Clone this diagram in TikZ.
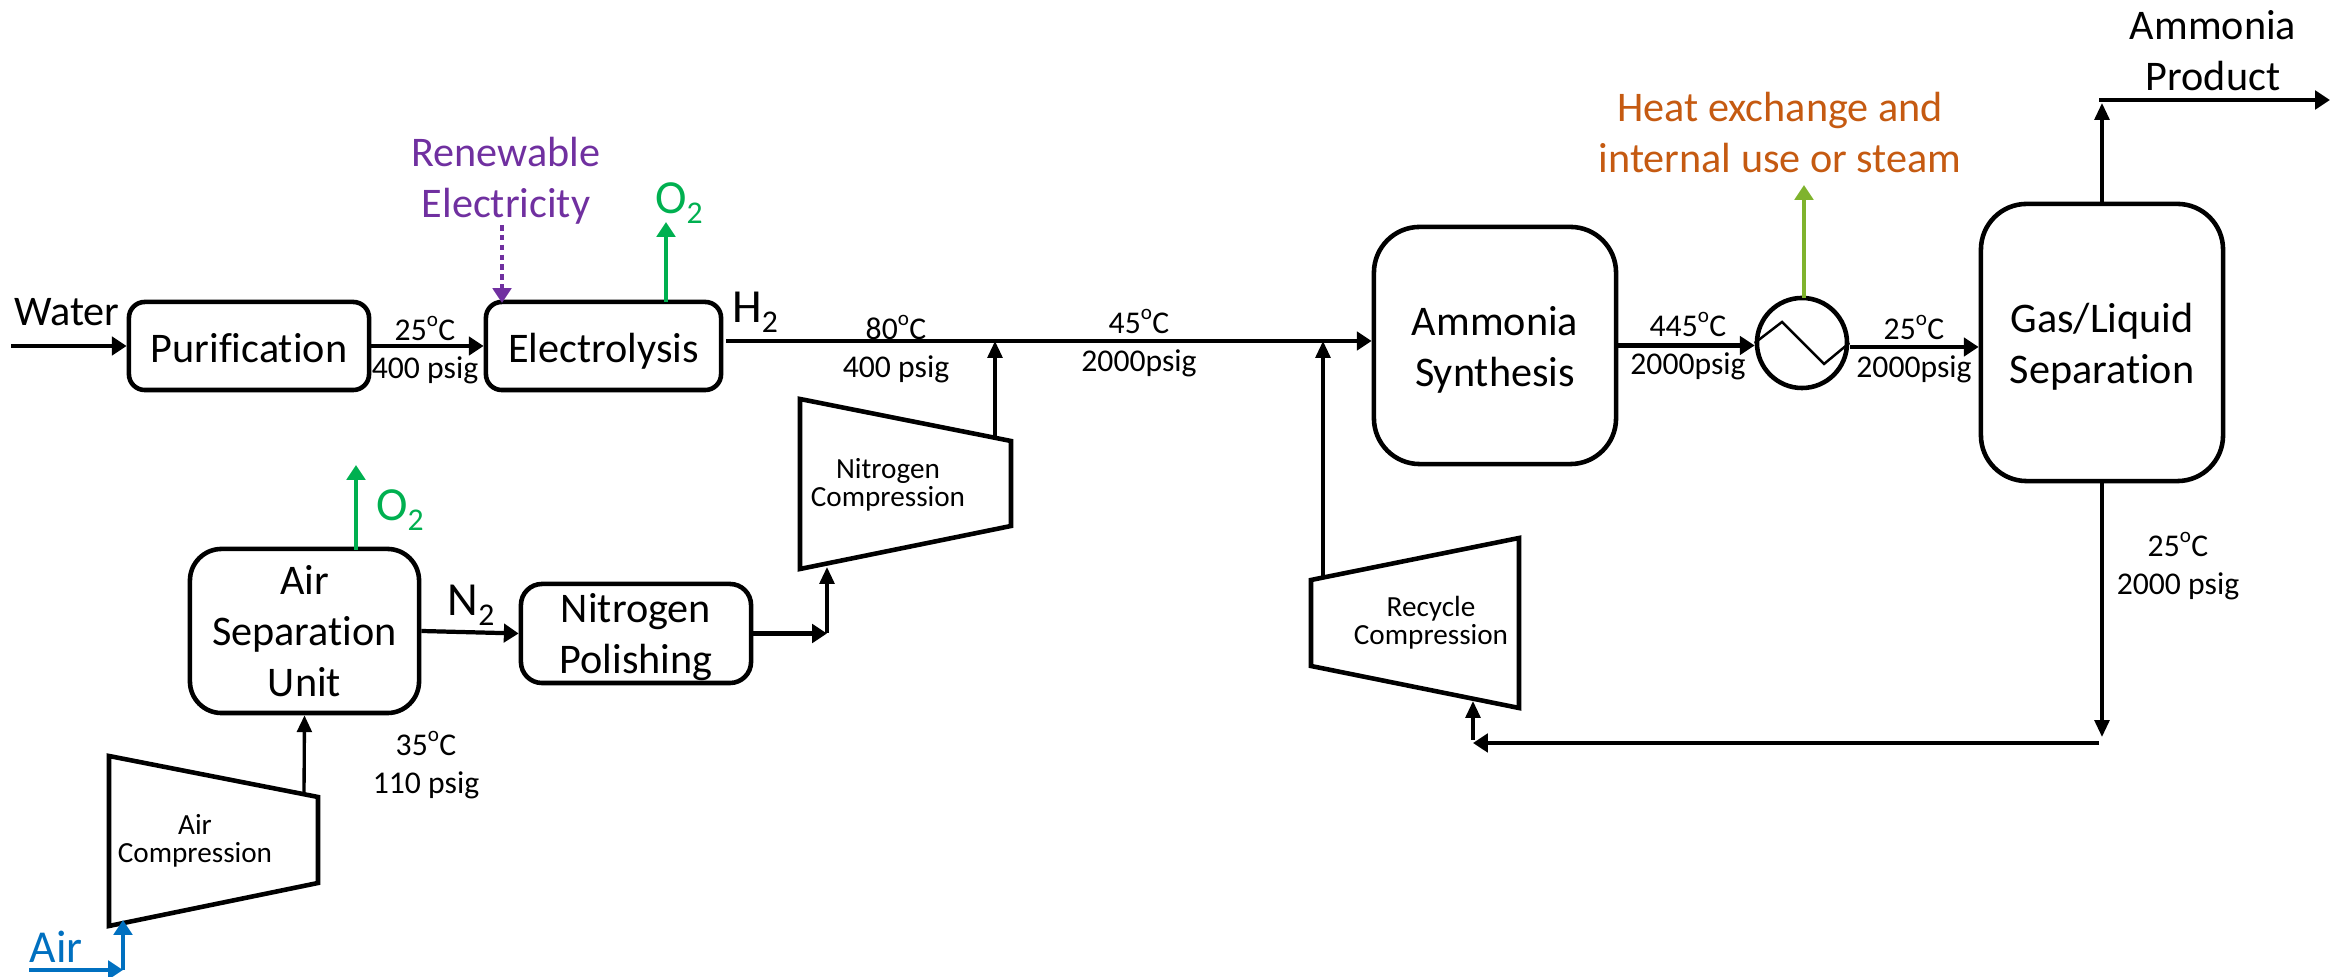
\documentclass[tikz,border=0pt]{standalone}
\usepackage{fontspec}
\setmainfont[Ligatures=NoCommon]{Carlito}
\usetikzlibrary{arrows.meta}
\definecolor{renewpurple}{HTML}{7030A0}
\definecolor{oxygreen}{HTML}{00B050}
\definecolor{airblue}{HTML}{0070C0}
\definecolor{heatorange}{HTML}{C55A11}
\definecolor{heatgreen}{HTML}{7FB32D}
\newcommand{\degc}{\textsuperscript{o}\kern-.04em C}
\newcommand{\subtwo}{\raisebox{-.45ex}{\fontsize{9}{9}\selectfont 2}}
\tikzset{
  procbox/.style={draw, line width=1.3pt, align=center, inner sep=0pt, font=\fontsize{12}{14.5}\selectfont},
  comptrap/.style={draw, line width=1.3pt, line join=miter},
  bigtxt/.style={align=center, inner sep=0pt, font=\fontsize{12}{14.5}\selectfont},
  gastxt/.style={align=center, inner sep=0pt, font=\fontsize{13.5}{14.5}\selectfont},
  condtxt/.style={align=center, inner sep=0pt, font=\fontsize{9}{10.8}\selectfont},
  comptxt/.style={align=center, inner sep=0pt, font=\fontsize{8.3}{8}\selectfont},
  thinflow/.style={line width=.95pt, -{Triangle[length=4.8pt, width=4.2pt]}},
  flow/.style={line width=1.2pt, -{Triangle[length=4.2pt, width=5.2pt]}}
}
\begin{document}
\begin{tikzpicture}[x=0.01cm, y=-0.01cm]
  \useasboundingbox (0, 0) rectangle (2344, 977);

  \node[procbox, rounded corners=4.5pt, minimum width=2.4cm, minimum height=.88cm, text height=9.5pt, text depth=0pt] (purif) at (249, 346) {Purification};
  \node[procbox, rounded corners=4.5pt, minimum width=2.35cm, minimum height=.88cm, text height=9.5pt, text depth=0pt] (electro) at (603.5, 346) {Electrolysis};
  \node[procbox, rounded corners=9pt, minimum width=2.29cm, minimum height=1.64cm] (asu) at (304.5, 631) {Air\\Separation\\Unit};
  \node[procbox, rounded corners=6pt, minimum width=2.3cm, minimum height=.99cm] (polish) at (636, 633.5) {\rule{0pt}{10.5pt}Nitrogen\\Polishing};
  \node[procbox, rounded corners=13pt, minimum width=2.42cm, minimum height=2.37cm] (synth) at (1495, 345.5) {\rule{0pt}{10.5pt}Ammonia\\Synthesis};
  \node[procbox, rounded corners=13pt, minimum width=2.42cm, minimum height=2.77cm] (sep) at (2102, 342.5) {\rule{0pt}{11pt}Gas/Liquid\\Separation};
  \node[draw, circle, line width=1.3pt, minimum size=.9cm, inner sep=0pt] (hx) at (1802, 343) {};
  \draw[line width=.7pt] (hx.west) -- (1782, 322) -- (1824, 364) -- (hx.east);

  \draw[comptrap] (109, 756) -- (318, 797) -- (318, 883) -- (109, 926) -- cycle;
  \draw[comptrap] (800, 399) -- (1011, 441) -- (1011, 526) -- (800, 569) -- cycle;
  \draw[comptrap] (1311, 580) -- (1519, 538) -- (1519, 708) -- (1311, 666) -- cycle;
  \node[comptxt] (aircomp) at (195, 841) {Air\\Compression};
  \node[comptxt] (nitcomp) at (888, 485) {Nitrogen\\Compression};
  \node[comptxt] (reccomp) at (1431, 623) {Recycle\\Compression};

  \coordinate (waterin) at (11, 346);
  \coordinate (renewout) at (502, 225);
  \coordinate (elecoxy) at (666, 222);
  \coordinate (h2start) at (726, 341);
  \coordinate (nitout) at (995, 438);
  \coordinate (nitin) at (827, 567);
  \coordinate (nitturn) at (827, 633.5);
  \coordinate (recout) at (1323, 576);
  \coordinate (hxout) at (1850, 347);
  \coordinate (heatout) at (1804, 185);
  \coordinate (prodtip) at (2102, 103);
  \coordinate (prodstart) at (2099, 100);
  \coordinate (prodend) at (2330, 100);
  \coordinate (sepdown) at (2102, 737);
  \coordinate (recstart) at (2099, 743);
  \coordinate (recturn) at (1473, 743);
  \coordinate (recin) at (1473, 701);
  \coordinate (asuoxy) at (356, 465);
  \coordinate (airin) at (29, 970);
  \coordinate (airturn) at (123, 970);
  \coordinate (airup) at (123, 920);
  \coordinate (compout) at (304, 795);

  \draw[flow] (waterin) -- (purif.west);
  \draw[flow] (purif.east) -- (electro.west);
  \draw[flow] (h2start) -- (synth.west |- h2start);
  \draw[thinflow] (nitout) -- (nitout |- h2start);
  \draw[thinflow] (recout) -- (recout |- h2start);
  \draw[flow] (synth.east) -- (hx.west |- synth.east);
  \draw[flow] (hxout) -- (sep.west |- hxout);
  \draw[thinflow] (sep.north) -- (prodtip);
  \draw[flow] (prodstart) -- (prodend);
  \draw[thinflow] (sep.south) -- (sepdown);
  \draw[flow] (recstart) -- (recturn);
  \draw[thinflow] (recturn) ++(0, -3) -- (recin);
  \draw[flow] (asu.east) -- (polish.west);
  \draw[flow] (polish.east) -- (nitturn);
  \draw[thinflow] (nitturn) -- (nitin);
  \draw[thinflow] (compout) -- (asu.south);
  \draw[airblue, flow] (airin) -- (airturn);
  \draw[airblue, flow] (airturn) -- (airup);
  \draw[oxygreen, flow, line width=1.35pt] (666, 302) -- (elecoxy);
  \draw[oxygreen, flow, line width=1.35pt] (356, 550) -- (asuoxy);
  \draw[heatgreen, flow, line width=1.3pt] (1804, 298) -- (heatout);
  \draw[renewpurple, line width=1.35pt, dash pattern=on 1.6pt off 1.2pt, -{Triangle[length=4.2pt, width=5.2pt]}] (renewout) -- (502, 303);

  \node[bigtxt] (water) at (67, 312) {Water};
  \node[bigtxt, text=renewpurple] (renew) at (506, 181) {Renewable\\Electricity};
  \node[gastxt, text=oxygreen] (oxya) at (679, 203) {O\subtwo};
  \node[gastxt, text=oxygreen] (oxyb) at (400, 510) {O\subtwo};
  \node[gastxt] (htwo) at (755, 312) {H\subtwo};
  \node[gastxt] (ntwo) at (471, 605) {N\subtwo};
  \node[bigtxt, text=heatorange] (heat) at (1780, 133) {Heat exchange and\\internal use or steam};
  \node[bigtxt] (prod) at (2213, 51) {Ammonia\\Product};
  \node[bigtxt, font=\fontsize{13}{14.5}\selectfont, text=airblue] (air) at (56, 947) {Air};

  \node[condtxt] (conda) at (425, 350) {25\degc\\400 psig};
  \node[condtxt] (condb) at (896, 349) {80\degc\\400 psig};
  \node[condtxt] (condc) at (1139, 343) {45\degc\\2000psig};
  \node[condtxt] (condd) at (426, 765) {35\degc\\110 psig};
  \node[condtxt] (conde) at (1688, 346) {445\degc\\2000psig};
  \node[condtxt] (condf) at (1914, 349) {25\degc\\2000psig};
  \node[condtxt] (condg) at (2178, 566) {25\degc\\2000 psig};
\end{tikzpicture}
\end{document}
